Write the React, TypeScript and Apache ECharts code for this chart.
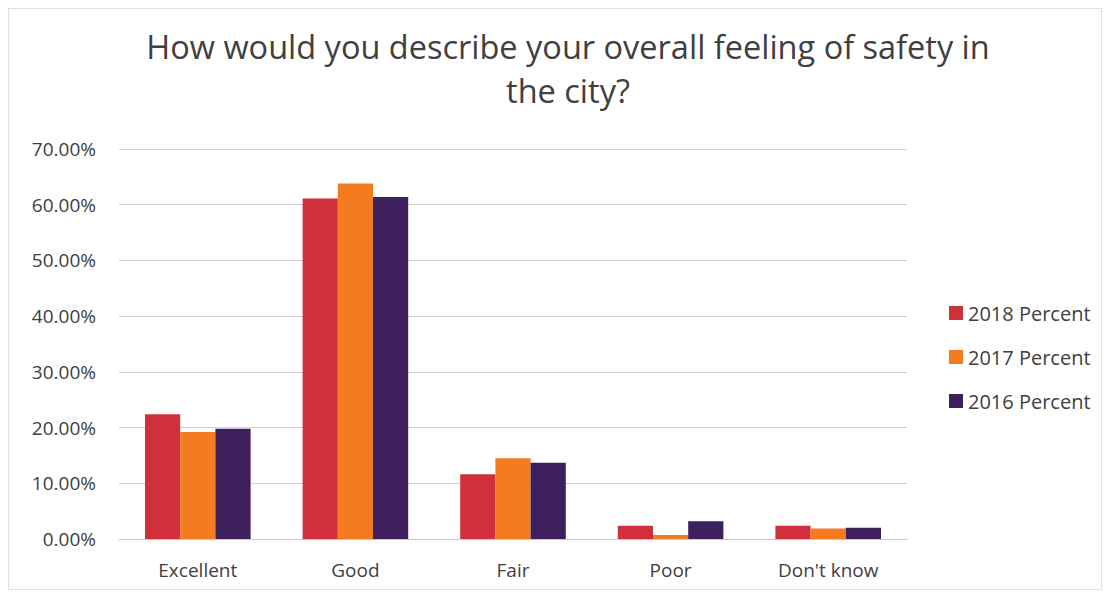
import React, { useEffect, useRef } from "react";
import * as echarts from "echarts";

const categories = ["Excellent", "Good", "Fair", "Poor", "Don't know"];
const seriesNames = ["2018 Percent", "2017 Percent", "2016 Percent"];
const values2018 = [22.4, 61.1, 11.6, 2.4, 2.4];
const values2017 = [19.2, 63.8, 14.5, 0.7, 1.9];
const values2016 = [19.8, 61.4, 13.7, 3.2, 2.0];
const colors = ["#d0303a", "#f47b20", "#3e1f5e"];
const titleText = "How would you describe your overall feeling of safety in\nthe city?";

export default function App() {
  const ref = useRef<HTMLDivElement>(null);
  useEffect(() => {
    if (!ref.current) return;
    const chart = echarts.init(ref.current, null, { renderer: "svg" });
    const data = [values2018, values2017, values2016];
    chart.setOption({
      animation: false,
      backgroundColor: "#ffffff",
      textStyle: { fontFamily: "Open Sans" },
      title: {
        text: titleText,
        left: 554,
        top: 10,
        textAlign: "center",
        textStyle: {
          fontFamily: "Open Sans",
          fontSize: 32.5,
          fontWeight: "normal",
          color: "#404040",
          lineHeight: 44,
        },
      },
      legend: {
        orient: "vertical",
        left: 935,
        top: 289,
        itemWidth: 14,
        itemHeight: 14,
        itemGap: 24,
        icon: "rect",
        textStyle: { fontFamily: "Open Sans", fontSize: 20, color: "#404040", padding: [0, 0, 0, 0] },
        data: seriesNames,
      },
      grid: { left: 110, right: 194, top: 140, bottom: 50, containLabel: false },
      xAxis: {
        type: "category",
        data: categories,
        axisTick: { show: false },
        axisLine: { lineStyle: { color: "#c8c8c8" } },
        axisLabel: { fontFamily: "Open Sans", fontSize: 19, color: "#404040", margin: 21 },
      },
      yAxis: {
        type: "value",
        min: 0,
        max: 70,
        interval: 10,
        axisLabel: {
          fontFamily: "Open Sans",
          fontSize: 19,
          color: "#404040",
          margin: 23,
          formatter: (v: number) => v.toFixed(2) + "%",
        },
        splitLine: { lineStyle: { color: "#d0d0d0" } },
        axisLine: { show: false },
        axisTick: { show: false },
      },
      series: seriesNames.map((name, i) => ({
        name,
        type: "bar",
        data: data[i],
        barGap: "0%",
        barCategoryGap: "33%",
        itemStyle: { color: colors[i] },
      })),
    });
    return () => chart.dispose();
  }, []);
  return (
    <div
      ref={ref}
      style={{ width: 1094, height: 582, boxSizing: "border-box", border: "1px solid #e0e0e0" }}
    />
  );
}
